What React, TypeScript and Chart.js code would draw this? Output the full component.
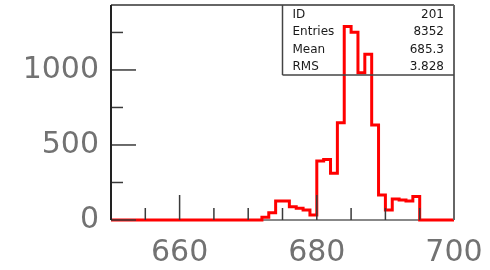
import React, { useEffect, useRef } from 'react';
import { Chart, registerables } from 'chart.js';

Chart.register(...registerables);

// Bin edges (x) of the histogram, 1 unit wide
const binEdges = [
  650, 651, 652, 653, 654, 655, 656, 657, 658, 659,
  660, 661, 662, 663, 664, 665, 666, 667, 668, 669,
  670, 671, 672, 673, 674, 675, 676, 677, 678, 679,
  680, 681, 682, 683, 684, 685, 686, 687, 688, 689,
  690, 691, 692, 693, 694, 695, 696, 697, 698, 699, 700,
];

// Counts per bin (bin i spans binEdges[i]..binEdges[i+1])
const counts = [
  0, 0, 0, 0, 0, 0, 0, 0, 0, 0,
  0, 0, 0, 0, 0, 0, 0, 0, 0, 0,
  0, 0, 18, 48, 127, 127, 89, 78, 67, 33,
  393, 404, 311, 649, 1289, 1251, 982, 1104, 633, 167,
  67, 140, 133, 127, 156, 0, 0, 0, 0, 0,
];

const xMin = 650;
const xMax = 700;
const yMin = 0;
const yMax = 1433;

const xTickLabels = [660, 680, 700];
const xMajorTicks = [650, 660, 680, 700];
const xMinorTicks = [655, 665, 670, 675, 685, 690, 695];
const yTickLabels = [0, 500, 1000];
const yMinorTicks = [250, 750, 1250];

const statsLabels = ['ID', 'Entries', 'Mean', 'RMS'];
const statsValues = ['201', '8352', '685.3', '3.828'];

const overlayPlugin = {
  id: 'rootOverlay',
  afterDatasetsDraw(chart: any) {
    const { ctx, chartArea: a, scales } = chart;
    const xs = scales.x;
    const ys = scales.y;
    ctx.save();

    const seg = (x1: number, y1: number, x2: number, y2: number) => {
      ctx.beginPath();
      ctx.moveTo(x1, y1);
      ctx.lineTo(x2, y2);
      ctx.stroke();
    };

    // tick marks (inside the frame)
    ctx.strokeStyle = '#3a3a3a';
    ctx.lineWidth = 1.5;
    xMajorTicks.forEach((v) => {
      const px = xs.getPixelForValue(v);
      seg(px, a.bottom, px, a.bottom - 25);
    });
    xMinorTicks.forEach((v) => {
      const px = xs.getPixelForValue(v);
      seg(px, a.bottom, px, a.bottom - 12);
    });
    yTickLabels.forEach((v) => {
      const py = ys.getPixelForValue(v);
      seg(a.left, py, a.left + 25, py);
    });
    yMinorTicks.forEach((v) => {
      const py = ys.getPixelForValue(v);
      seg(a.left, py, a.left + 12, py);
    });

    // frame
    ctx.strokeStyle = '#666';
    ctx.lineWidth = 2;
    seg(a.left, a.top, a.right, a.top);
    seg(a.right, a.top, a.right, a.bottom);
    ctx.strokeStyle = '#222';
    seg(a.left, a.top, a.left, a.bottom);

    // stats box
    const bl = a.left + a.width * 0.5;
    const bt = a.top;
    const bb = a.top + 70;
    const br = a.right;
    ctx.strokeStyle = '#444';
    ctx.lineWidth = 1.5;
    seg(bl, bt, bl, bb);
    seg(bl, bb, br, bb);

    ctx.fillStyle = '#1a1a1a';
    ctx.font = '12px "DejaVu Sans"';
    ctx.textBaseline = 'middle';
    const rowH = (bb - bt) / statsLabels.length;
    statsLabels.forEach((lab, i) => {
      const cy = bt + rowH * (i + 0.5) + 1;
      ctx.textAlign = 'left';
      ctx.fillText(lab, bl + 10, cy);
      ctx.textAlign = 'right';
      ctx.fillText(statsValues[i], br - 10, cy);
    });

    ctx.restore();
  },
  beforeDatasetsDraw(chart: any) {
    const { ctx, chartArea: a } = chart;
    ctx.save();
    ctx.strokeStyle = '#888';
    ctx.lineWidth = 2;
    ctx.beginPath();
    ctx.moveTo(a.left, a.bottom);
    ctx.lineTo(a.right, a.bottom);
    ctx.stroke();
    ctx.restore();
  },
};

export default function App() {
  const ref = useRef<HTMLCanvasElement | null>(null);

  useEffect(() => {
    document.body.style.margin = '0';
    const canvas = ref.current;
    if (!canvas) return;
    const points = binEdges.map((x, i) => ({ x, y: counts[Math.min(i, counts.length - 1)] }));
    const tickFont = { family: '"DejaVu Sans"', size: 30 };
    const chart = new Chart(canvas, {
      type: 'line',
      data: {
        datasets: [
          {
            data: points,
            stepped: true,
            borderColor: '#ff0000',
            borderWidth: 3,
            pointRadius: 0,
            fill: false,
            clip: false as any,
          },
        ],
      },
      options: {
        responsive: false,
        animation: false,
        devicePixelRatio: 1,
        layout: { padding: { left: 0, top: 5, right: 36, bottom: 0 } },
        plugins: {
          legend: { display: false },
          tooltip: { enabled: false },
        },
        scales: {
          x: {
            type: 'linear',
            min: xMin,
            max: xMax,
            grid: { display: false, drawTicks: false },
            border: { display: false },
            ticks: {
              font: tickFont,
              color: '#727272',
              padding: 15,
              maxRotation: 0,
              autoSkip: false,
              callback: (v: any) => String(v),
            },
            afterBuildTicks: (s: any) => {
              s.ticks = xTickLabels.map((v) => ({ value: v }));
            },
            afterFit: (s: any) => {
              s.height = 50;
              s.paddingLeft = 0;
              s.paddingRight = 0;
            },
          },
          y: {
            type: 'linear',
            min: yMin,
            max: yMax,
            grid: { display: false, drawTicks: false },
            border: { display: false },
            ticks: {
              font: tickFont,
              color: '#727272',
              padding: 12,
              autoSkip: false,
              callback: (v: any) => String(v),
            },
            afterBuildTicks: (s: any) => {
              s.ticks = yTickLabels.map((v) => ({ value: v }));
            },
            afterFit: (s: any) => {
              s.width = 111;
              s.paddingTop = 0;
              s.paddingBottom = 0;
            },
          },
        },
      },
      plugins: [overlayPlugin],
    });
    return () => chart.destroy();
  }, []);

  return (
    <div style={{ position: 'absolute', left: 0, top: 0, width: 490, height: 270 }}>
      <canvas ref={ref} width={490} height={270} style={{ display: 'block' }} />
    </div>
  );
}
